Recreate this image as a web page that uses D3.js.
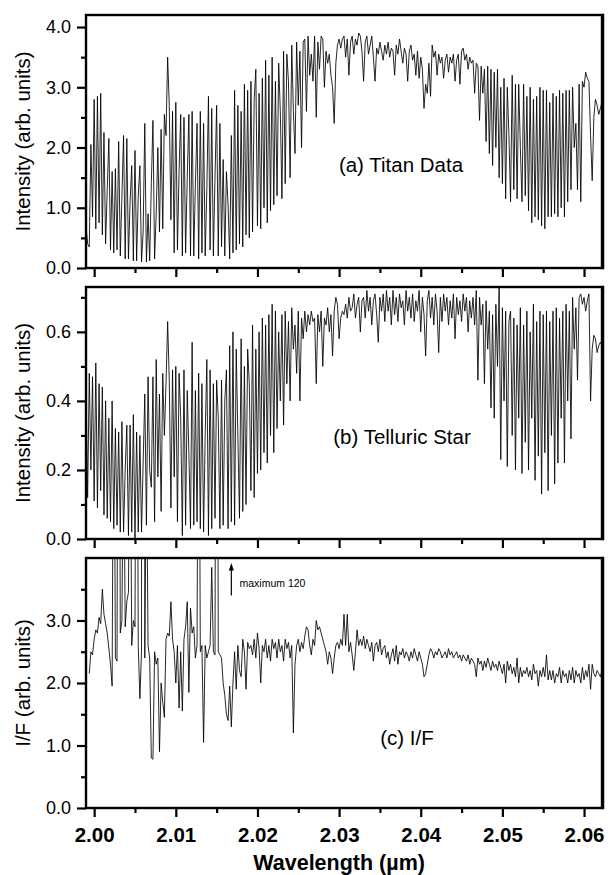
<!DOCTYPE html>
<html>
<head>
<meta charset="utf-8">
<script src="https://cdn.jsdelivr.net/npm/d3@7/dist/d3.min.js"></script>
<style>
  html, body { margin: 0; padding: 0; background: #fff; }
  svg { display: block; font-family: "Liberation Sans", Arial, sans-serif; }
</style>
</head>
<body>
<svg id="chart" width="611" height="875"></svg>
<script>
// Spectra sampled on a regular wavelength grid (µm)
const lamStart = 1.999;
const lamStep = 0.0002;

// (a) Titan spectrum, arbitrary intensity units
const titan = [
  0.70, 0.40, 0.35, 2.05, 0.85, 2.80, 0.65, 2.85, 0.75, 2.90,
  0.55, 2.25, 0.40, 1.30, 2.15, 0.30, 1.60, 0.25, 1.65, 0.30,
  2.10, 0.20, 1.20, 2.20, 0.15, 2.15, 0.15, 1.10, 1.70, 0.12,
  1.95, 0.12, 1.20, 1.70, 0.10, 0.60, 2.40, 0.10, 0.90, 0.12,
  1.40, 2.45, 0.15, 0.90, 2.00, 0.60, 2.30, 0.65, 2.55, 2.20,
  3.50, 2.70, 0.80, 2.60, 0.25, 2.75, 0.30, 1.60, 2.55, 0.20,
  2.50, 0.25, 1.50, 2.55, 0.20, 2.60, 0.20, 1.40, 2.40, 0.15,
  2.60, 0.25, 2.40, 0.20, 1.30, 2.85, 0.30, 2.65, 0.20, 1.50,
  2.70, 0.20, 2.40, 0.35, 1.80, 0.20, 1.60, 1.05, 0.15, 2.20,
  0.25, 2.95, 0.30, 2.70, 0.40, 2.60, 0.35, 3.05, 0.55, 2.95,
  0.50, 3.10, 0.60, 2.80, 3.30, 0.70, 2.90, 0.65, 3.15, 1.00,
  3.45, 0.75, 3.20, 0.95, 3.50, 1.05, 3.10, 1.20, 3.40, 2.60,
  1.15, 3.60, 1.40, 3.55, 3.10, 1.50, 3.70, 2.60, 1.90, 3.75,
  2.70, 3.60, 2.00, 3.75, 3.80, 2.60, 3.85, 3.20, 3.55, 3.10,
  3.85, 2.50, 3.75, 3.30, 3.85, 3.80, 3.00, 3.60, 3.40, 3.55,
  3.20, 3.00, 2.40, 3.40, 3.70, 3.80, 3.65, 3.80, 3.85, 3.50,
  3.80, 3.20, 3.75, 3.85, 3.55, 3.80, 3.70, 3.90, 3.85, 3.60,
  3.10, 3.75, 3.85, 3.55, 3.70, 3.85, 3.50, 3.10, 3.65, 3.55,
  3.75, 3.60, 3.45, 3.70, 3.55, 3.75, 3.50, 3.65, 3.60, 3.20,
  3.70, 3.55, 3.80, 3.60, 3.40, 3.65, 3.55, 3.10, 3.60, 3.70,
  3.45, 3.55, 3.20, 3.60, 3.15, 3.50, 3.30, 2.65, 3.05, 2.90,
  3.40, 2.85, 3.70, 3.50, 3.60, 3.20, 3.55, 3.40, 3.50, 3.15,
  3.45, 3.55, 3.25, 3.50, 3.40, 3.55, 3.10, 3.45, 3.55, 3.05,
  3.60, 3.65, 3.45, 3.55, 3.30, 3.50, 3.40, 3.45, 2.90, 3.40,
  3.35, 2.45, 3.35, 2.90, 3.30, 2.10, 3.35, 1.90, 3.30, 1.70,
  3.25, 2.00, 3.30, 1.50, 3.00, 1.40, 3.15, 1.15, 3.00, 2.20,
  1.10, 3.20, 1.30, 3.05, 1.15, 3.05, 2.00, 1.10, 3.05, 1.20,
  2.85, 0.95, 3.00, 0.75, 2.80, 0.85, 2.85, 0.80, 3.00, 0.70,
  2.95, 0.65, 2.95, 0.85, 2.75, 0.85, 2.90, 0.90, 2.85, 0.85,
  2.95, 1.00, 2.90, 0.85, 2.95, 1.10, 2.95, 1.30, 3.00, 2.00,
  2.40, 1.30, 3.05, 1.10, 3.10, 3.00, 3.25, 3.15, 3.10, 2.20,
  1.45, 2.50, 2.80, 2.70, 2.55, 2.65, 2.75
];

// (b) telluric standard star, arbitrary intensity units
const telluric = [
  0.45, 0.12, 0.48, 0.20, 0.47, 0.11, 0.51, 0.09, 0.45, 0.14,
  0.44, 0.07, 0.40, 0.06, 0.35, 0.05, 0.40, 0.03, 0.32, 0.04,
  0.31, 0.02, 0.34, 0.02, 0.20, 0.33, 0.01, 0.33, 0.02, 0.36,
  0.00, 0.31, 0.02, 0.30, 0.02, 0.22, 0.42, 0.04, 0.47, 0.20,
  0.15, 0.47, 0.05, 0.52, 0.18, 0.42, 0.08, 0.48, 0.30, 0.45,
  0.63, 0.46, 0.09, 0.49, 0.18, 0.50, 0.05, 0.48, 0.35, 0.01,
  0.49, 0.04, 0.43, 0.25, 0.03, 0.57, 0.04, 0.43, 0.05, 0.48,
  0.03, 0.45, 0.02, 0.30, 0.52, 0.01, 0.49, 0.03, 0.45, 0.06,
  0.46, 0.35, 0.03, 0.46, 0.04, 0.40, 0.49, 0.03, 0.56, 0.05,
  0.60, 0.04, 0.55, 0.30, 0.06, 0.58, 0.08, 0.50, 0.10, 0.55,
  0.45, 0.14, 0.62, 0.12, 0.55, 0.19, 0.60, 0.20, 0.64, 0.25,
  0.62, 0.22, 0.65, 0.30, 0.68, 0.25, 0.66, 0.32, 0.60, 0.40,
  0.65, 0.33, 0.66, 0.45, 0.63, 0.40, 0.67, 0.55, 0.62, 0.48,
  0.66, 0.40, 0.64, 0.58, 0.66, 0.60, 0.65, 0.62, 0.66, 0.63,
  0.64, 0.45, 0.65, 0.60, 0.66, 0.50, 0.64, 0.62, 0.67, 0.60,
  0.65, 0.53, 0.66, 0.70, 0.68, 0.58, 0.64, 0.66, 0.65, 0.68,
  0.64, 0.70, 0.66, 0.67, 0.71, 0.64, 0.68, 0.70, 0.60, 0.69,
  0.70, 0.64, 0.72, 0.66, 0.70, 0.62, 0.69, 0.71, 0.65, 0.57,
  0.70, 0.66, 0.71, 0.63, 0.72, 0.66, 0.70, 0.62, 0.72, 0.65,
  0.70, 0.63, 0.71, 0.67, 0.69, 0.62, 0.72, 0.66, 0.70, 0.64,
  0.71, 0.63, 0.69, 0.66, 0.72, 0.60, 0.70, 0.65, 0.53, 0.69,
  0.72, 0.64, 0.70, 0.62, 0.71, 0.66, 0.54, 0.70, 0.63, 0.71,
  0.66, 0.70, 0.62, 0.69, 0.64, 0.71, 0.58, 0.70, 0.65, 0.69,
  0.63, 0.71, 0.66, 0.70, 0.60, 0.69, 0.64, 0.70, 0.62, 0.72,
  0.46, 0.70, 0.62, 0.68, 0.45, 0.69, 0.55, 0.66, 0.38, 0.65,
  0.35, 0.68, 0.50, 0.73, 0.23, 0.67, 0.40, 0.66, 0.21, 0.63,
  0.66, 0.30, 0.64, 0.20, 0.62, 0.35, 0.67, 0.19, 0.62, 0.28,
  0.66, 0.20, 0.60, 0.35, 0.68, 0.17, 0.63, 0.24, 0.66, 0.13,
  0.65, 0.25, 0.66, 0.14, 0.63, 0.30, 0.66, 0.16, 0.67, 0.22,
  0.64, 0.35, 0.66, 0.22, 0.68, 0.40, 0.66, 0.29, 0.70, 0.55,
  0.67, 0.46, 0.70, 0.71, 0.68, 0.70, 0.66, 0.69, 0.71, 0.40,
  0.55, 0.59, 0.58, 0.54, 0.56, 0.57, 0.56
];

// (c) I/F ratio; spikes run off the top of the axis (largest 120)
const ratioIF = [
  null, null, 2.15, 2.50, 2.45, 2.70, 2.85, 2.80, 3.05, 2.95,
  3.50, 3.10, 2.95, 2.80, 2.55, 2.30, 1.95, 8.00, 2.40, 2.35,
  12.0, 2.80, 3.00, 6.50, 2.90, 3.30, 3.45, 7.00, 2.60, 3.00,
  2.90, 10.0, 2.60, 1.75, 2.50, 120, 2.40, 6.00, 2.60, 2.40,
  0.80, 0.78, 2.50, 2.30, 2.40, 0.90, 2.00, 1.70, 1.45, 2.70,
  2.80, 2.75, 3.30, 2.70, 2.50, 2.00, 2.60, 1.60, 2.50, 1.55,
  2.70, 2.90, 3.30, 1.85, 3.20, 2.80, 2.90, 2.40, 2.60, 9.00,
  2.50, 2.60, 1.05, 2.60, 2.40, 2.50, 2.60, 3.85, 2.50, 2.45,
  14.0, 2.50, 2.45, 2.40, 2.00, 1.80, 1.50, 1.40, 1.95, 1.30,
  2.00, 2.50, 1.90, 2.60, 2.20, 2.10, 2.70, 2.50, 1.90, 2.65,
  2.55, 2.60, 2.45, 2.70, 2.40, 2.80, 2.55, 2.00, 2.60, 2.50,
  2.70, 2.40, 2.60, 2.35, 2.70, 2.55, 2.65, 2.40, 2.70, 2.50,
  2.60, 2.35, 2.70, 2.55, 2.65, 2.40, 2.60, 1.20, 2.30, 2.60,
  2.70, 2.50, 2.65, 2.55, 2.75, 2.90, 2.85, 2.60, 2.45, 2.70,
  2.60, 3.00, 2.85, 2.90, 2.80, 2.70, 2.60, 2.50, 2.30, 2.50,
  2.40, 2.15, 2.40, 2.60, 2.65, 2.55, 2.70, 2.60, 3.10, 2.60,
  3.10, 2.50, 2.65, 2.45, 2.20, 2.50, 2.85, 2.60, 2.70, 2.60,
  2.75, 2.55, 2.70, 2.60, 2.50, 2.65, 2.35, 2.60, 2.65, 2.50,
  2.70, 2.45, 2.55, 2.60, 2.40, 2.50, 2.30, 2.45, 2.55, 2.35,
  2.60, 2.30, 2.50, 2.45, 2.55, 2.40, 2.50, 2.45, 2.35, 2.50,
  2.40, 2.55, 2.45, 2.35, 2.50, 2.40, 2.30, 2.10, 2.15, 2.30,
  2.45, 2.55, 2.50, 2.40, 2.50, 2.45, 2.55, 2.50, 2.40, 2.45,
  2.50, 2.40, 2.55, 2.45, 2.50, 2.40, 2.45, 2.50, 2.40, 2.45,
  2.35, 2.45, 2.40, 2.35, 2.45, 2.30, 2.40, 2.35, 2.30, 2.10,
  2.40, 2.30, 2.35, 2.20, 2.35, 2.25, 2.40, 2.30, 2.20, 2.35,
  2.25, 2.30, 2.20, 2.35, 2.25, 2.15, 2.30, 2.00, 2.35, 2.20,
  2.30, 2.15, 2.25, 2.10, 2.40, 2.00, 2.25, 2.10, 2.20, 2.15,
  2.25, 2.10, 2.20, 2.05, 2.30, 2.15, 2.20, 1.95, 2.20, 2.10,
  2.25, 2.10, 2.45, 2.05, 2.20, 2.05, 2.20, 2.00, 2.15, 2.10,
  2.25, 2.00, 2.20, 2.10, 2.15, 2.00, 2.20, 2.05, 2.25, 2.00,
  2.20, 2.10, 2.15, 2.00, 2.25, 2.05, 2.20, 2.10, 2.30, 1.90,
  2.30, 2.15, 2.10, 2.20, 2.15, 2.10, 2.20
];

// Axis ticks
const xMajor = [2.00, 2.01, 2.02, 2.03, 2.04, 2.05, 2.06];
const xMinor = [2.005, 2.015, 2.025, 2.035, 2.045, 2.055];
const yMajorA = [0, 1, 2, 3, 4];
const yMinorA = [0.5, 1.5, 2.5, 3.5];
const yMajorB = [0, 0.2, 0.4, 0.6];
const yMinorB = [0.1, 0.3, 0.5, 0.7];
const yMajorC = [0, 1, 2, 3];
const yMinorC = [0.5, 1.5, 2.5, 3.5];

const annotation = "maximum 120";

const svg = d3.select("#chart");
const left = 86, right = 602;
const x = d3.scaleLinear().domain([1.999, 2.0622]).range([left, right]);

const panels = [
  { data: titan, top: 15, bottom: 268, yMax: 4.2, major: yMajorA, minor: yMinorA,
    fmt: d3.format(".1f"), title: "Intensity (arb. units)", label: "(a) Titan Data", labelX: 401, labelY: 172 },
  { data: telluric, top: 287, bottom: 539, yMax: 0.73, major: yMajorB, minor: yMinorB,
    fmt: d3.format(".1f"), title: "Intensity (arb. units)", label: "(b) Telluric Star", labelX: 402, labelY: 444 },
  { data: ratioIF, top: 558, bottom: 808, yMax: 4.0, major: yMajorC, minor: yMinorC,
    fmt: d3.format(".1f"), title: "I/F (arb. units)", label: "(c) I/F", labelX: 407, labelY: 745 }
];

panels.forEach((p, k) => {
  const y = d3.scaleLinear().domain([0, p.yMax]).range([p.bottom, p.top]);
  const g = svg.append("g");

  const clipId = "clip" + k;
  svg.append("clipPath").attr("id", clipId)
    .append("rect").attr("x", left).attr("y", p.top)
    .attr("width", right - left).attr("height", p.bottom - p.top);

  const pts = p.data.map((v, i) => [lamStart + i * lamStep, v]);
  const line = d3.line()
    .defined(d => d[1] !== null)
    .x(d => x(d[0]))
    .y(d => y(d[1]));

  g.append("path")
    .attr("clip-path", `url(#${clipId})`)
    .attr("d", line(pts))
    .attr("fill", "none")
    .attr("stroke", "#000")
    .attr("stroke-width", 0.85)
    .attr("stroke-linejoin", "round");

  // y axis: major with labels, minor without
  const yAxis = g.append("g").attr("transform", `translate(${left},0)`)
    .call(d3.axisLeft(y).tickValues(p.major).tickSize(9).tickPadding(6).tickFormat(p.fmt));
  const yAxisMinor = g.append("g").attr("transform", `translate(${left},0)`)
    .call(d3.axisLeft(y).tickValues(p.minor).tickSize(5).tickFormat(""));
  [yAxis, yAxisMinor].forEach(a => {
    a.select(".domain").remove();
    a.selectAll("line").attr("stroke", "#000").attr("stroke-width", 2.2);
  });
  yAxis.selectAll("text")
    .attr("font-size", 18).attr("fill", "#000")
    .style("font-family", "'Liberation Sans', Arial, sans-serif");

  // x axis ticks on every panel, labels only on the lowest one
  const isLast = k === panels.length - 1;
  const xAxis = g.append("g").attr("transform", `translate(0,${p.bottom})`)
    .call(d3.axisBottom(x).tickValues(xMajor).tickSize(9).tickPadding(10)
      .tickFormat(isLast ? d3.format(".2f") : ""));
  const xAxisMinor = g.append("g").attr("transform", `translate(0,${p.bottom})`)
    .call(d3.axisBottom(x).tickValues(xMinor).tickSize(5).tickFormat(""));
  [xAxis, xAxisMinor].forEach(a => {
    a.select(".domain").remove();
    a.selectAll("line").attr("stroke", "#000").attr("stroke-width", 2.2);
  });
  xAxis.selectAll("text")
    .attr("font-size", 20.5).attr("font-weight", "bold").attr("fill", "#000")
    .style("font-family", "'Liberation Sans', Arial, sans-serif");

  // frame, heavier on the right
  g.append("rect")
    .attr("x", left).attr("y", p.top)
    .attr("width", right - left).attr("height", p.bottom - p.top)
    .attr("fill", "none").attr("stroke", "#000").attr("stroke-width", 2.4);
  g.append("line")
    .attr("x1", right + 1).attr("x2", right + 1)
    .attr("y1", p.top - 1.2).attr("y2", p.bottom + 1.2)
    .attr("stroke", "#000").attr("stroke-width", 2.5);

  // y title
  g.append("text")
    .attr("transform", `translate(30,${(p.top + p.bottom) / 2}) rotate(-90)`)
    .attr("text-anchor", "middle")
    .attr("font-size", 20.5)
    .text(p.title);

  // panel label
  g.append("text")
    .attr("x", p.labelX).attr("y", p.labelY)
    .attr("text-anchor", "middle")
    .attr("font-size", 20.5)
    .text(p.label);

  if (isLast) {
    // arrow noting that the clipped spikes reach 120
    const ax = x(2.0168);
    g.append("line")
      .attr("x1", ax).attr("x2", ax)
      .attr("y1", y(3.4)).attr("y2", y(3.86))
      .attr("stroke", "#000").attr("stroke-width", 1.2);
    g.append("path")
      .attr("d", `M${ax - 2.5},${y(3.80)} L${ax},${y(3.92)} L${ax + 2.5},${y(3.80)} Z`)
      .attr("fill", "#000");
    g.append("text")
      .attr("x", x(2.0178)).attr("y", y(3.58))
      .attr("font-size", 10.5)
      .attr("dominant-baseline", "middle")
      .text(annotation);

    // x title
    svg.append("text")
      .attr("x", (x(2.00) + x(2.06)) / 2).attr("y", 870)
      .attr("text-anchor", "middle")
      .attr("font-size", 21.5).attr("font-weight", "bold")
      .text("Wavelength (\u00b5m)");
  }
});
</script>
</body>
</html>
